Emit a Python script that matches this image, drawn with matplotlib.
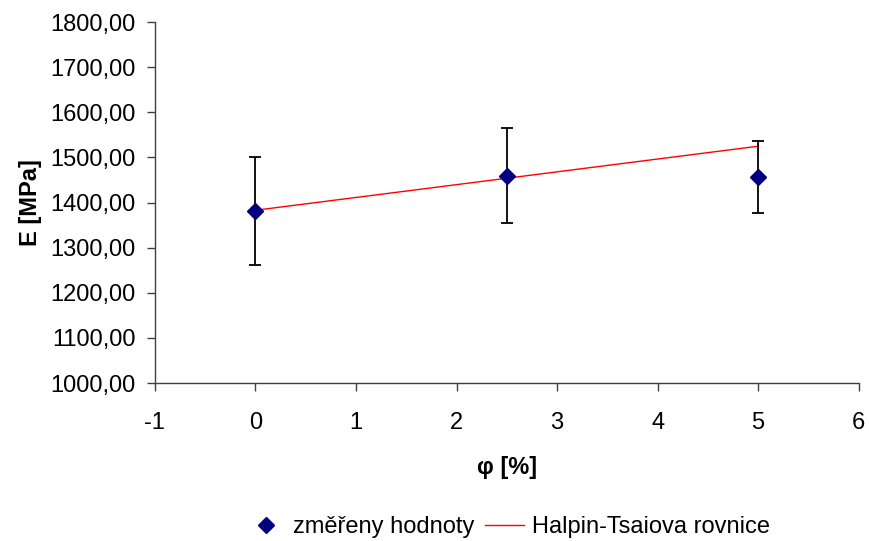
import numpy as np
import matplotlib.pyplot as plt

plt.rcParams['font.family'] = ['Liberation Sans', 'DejaVu Sans']
plt.rcParams['axes.unicode_minus'] = False

# measured values
phi = [0, 2.5, 5]
E_meas = [1381, 1460, 1457]
E_err = [119, 105, 80]

# Halpin-Tsai model
phi_model = [0, 2.5, 5]
E_model = [1383, 1454, 1525]

yticks = np.arange(1000, 1801, 100)
xticks = np.arange(-1, 7, 1)

fs = 17

fig = plt.figure(figsize=(8.7, 5.41), dpi=100)
ax = fig.add_axes([0.178, 0.292, 0.809, 0.667])

ax.plot(phi_model, E_model, color='red', lw=1.0, zorder=2)
ax.errorbar(phi, E_meas, yerr=E_err, fmt='none', ecolor='black',
            elinewidth=1.3, capsize=4.5, capthick=1.3, zorder=3)
ax.plot(phi, E_meas, 'D', color='#000080', ms=8.5, ls='none', zorder=4)

ax.set_xlim(-1, 6)
ax.set_ylim(1000, 1800)
ax.set_xticks(xticks)
ax.set_yticks(yticks)
ax.set_yticklabels(['{:.2f}'.format(v).replace('.', ',') for v in yticks])

for s in ['top', 'right']:
    ax.spines[s].set_visible(False)
for s in ['left', 'bottom']:
    ax.spines[s].set_color('#404040')
    ax.spines[s].set_linewidth(1.0)
ax.tick_params(direction='out', length=6, width=1.0, color='#404040',
               labelsize=fs)
ax.tick_params(axis='x', pad=15)
ax.tick_params(axis='y', pad=8)

ax.set_xlabel('φ [%]', fontsize=fs, fontweight='bold', labelpad=16)
ax.set_ylabel('E [MPa]', fontsize=fs, fontweight='bold', labelpad=6)

h1 = plt.Line2D([], [], marker='D', color='#000080', ms=8.5, ls='none')
h2 = plt.Line2D([], [], color='red', lw=1.0)
fig.legend([h1, h2], ['změřeny hodnoty', 'Halpin-Tsaiova rovnice'],
           loc='center', bbox_to_anchor=(508 / 870, 1 - 527 / 541),
           ncol=2, frameon=False, fontsize=fs, handlelength=1.65,
           columnspacing=0.42, handletextpad=0.34)

plt.savefig('out.png', dpi=100)
